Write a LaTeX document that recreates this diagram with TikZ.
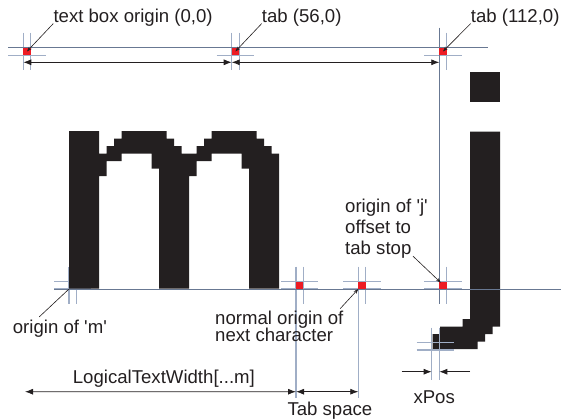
\documentclass[tikz,border=0pt]{standalone}
\usepackage{fontspec}
\newfontfamily\labelfont{Liberation Sans}
\usetikzlibrary{arrows.meta,calc}
\definecolor{inkblack}{RGB}{35,31,32}
\definecolor{pixred}{RGB}{237,28,36}
\definecolor{guidedark}{RGB}{104,120,146}
\definecolor{guidepale}{RGB}{160,174,198}
\tikzset{
  guide/.style={draw=guidedark, line width=1pt},
  faint/.style={draw=guidepale, line width=1.1pt},
  glyph/.style={fill=inkblack},
  dimarrow/.style={{Latex[length=8pt,width=6pt]}-{Latex[length=8pt,width=6pt]}, line width=0.8pt, draw=inkblack},
  onearrow/.style={-{Latex[length=8pt,width=6pt]}, line width=0.8pt, draw=inkblack},
  leader/.style={-{Stealth[length=5pt,width=3.5pt]}, line width=0.6pt, draw=inkblack},
  txt/.style={font=\labelfont\fontsize{18.6}{21}\selectfont, text=inkblack, inner sep=0pt, align=left},
}
\begin{document}
\begin{tikzpicture}[x=1pt, y=-1pt]
\useasboundingbox (0,0) rectangle (561,418);
% the j glyph
\begin{scope}[shift={(470,289)}, x=7.5pt, y=-7.5pt]
  \fill[glyph] (0,-29) rectangle (4,-25);
  \fill[glyph] (0,-21) -- (4,-21) -- (4,5) -- (3,5) -- (3,6) -- (2,6) -- (2,7) -- (1,7) -- (1,8)
    -- (-5,8) -- (-5,6) -- (-4,6) -- (-4,5) -- (-1,5) -- (-1,4) -- (0,4) -- cycle;
\end{scope}
% crosshair markers
\foreach \n/\x/\y in {orig/23.3/47.7, tabA/231.7/47.7, tabB/439.3/47.7, morig/69/281.6,
    nextch/296/281.6, tabstop/358.3/281.6, jorig/439.3/281.6, jbox/431.7/342.6} {
  \coordinate (\n) at (\x,\y);
  \draw[faint] (\x,\y-15) -- (\x,\y+22.4) (\x+7.4,\y-15) -- (\x+7.4,\y+22.4)
    (\x-15,\y) -- (\x+22.4,\y) (\x-15,\y+7.4) -- (\x+22.4,\y+7.4);
}
\draw[guide] (8,47.7) -- (488,47.7);
\draw[guide] (54,289) -- (561,289);
\draw[guide] ($(tabB)+(0,-20)$) -- ($(jorig)+(0,22.4)$);
\foreach \n in {nextch,tabstop}
  \draw[faint] ($(\n)+(0,22.4)$) -- ($(\n)+(0,116.7)$);
\draw[faint] ($(jbox)+(0,22.4)$) -- ($(jbox)+(0,37.4)$);
\draw[faint] ($(jbox)+(7.4,22.4)$) -- ($(jbox)+(7.4,37.4)$);
% the m glyph
\begin{scope}[shift={(69,131)}, x=7.5pt, y=-7.5pt]
  \fill[glyph] (0,21) -- (0,0) -- (4,0) -- (4,3) -- (5,3) -- (5,2) -- (6,2) -- (6,1) -- (7,1) -- (7,0)
    -- (13,0) -- (13,1) -- (14,1) -- (14,2) -- (15,2) -- (15,3) -- (17,3) -- (17,2) -- (18,2) -- (18,1)
    -- (19,1) -- (19,0) -- (25,0) -- (25,1) -- (26,1) -- (26,2) -- (27,2) -- (27,3) -- (28,3) -- (28,21)
    -- (24,21) -- (24,5) -- (23,5) -- (23,3) -- (19,3) -- (19,4) -- (17,4) -- (17,6) -- (16,6) -- (16,21)
    -- (12,21) -- (12,5) -- (11,5) -- (11,3) -- (7,3) -- (7,4) -- (5,4) -- (5,6) -- (4,6) -- (4,21) -- cycle;
\end{scope}
\foreach \n in {orig,tabA,tabB,nextch,tabstop,jorig}
  \fill[pixred] (\n) rectangle ++(7.4,7.4);
% dimensions
\coordinate (ltw) at (25,391.7);
\draw[dimarrow] ($(orig)+(0,14.6)$) -- ($(tabA)+(0,14.6)$);
\draw[dimarrow] ($(tabA)+(0,14.6)$) -- ($(tabB)+(0,14.6)$);
\draw[dimarrow] (ltw) -- ($(nextch)+(0,110.1)$);
\draw[dimarrow] ($(nextch)+(0,110.1)$) -- ($(tabstop)+(0,110.1)$);
\draw[onearrow] ($(jbox)+(-30,29.1)$) -- ($(jbox)+(0,29.1)$);
\draw[onearrow] ($(jbox)+(38.3,29.1)$) -- ($(jbox)+(7.6,29.1)$);
% labels
\node[txt, anchor=base west] (lorig) at (53.3,22.5) {text box origin (0,0)};
\node[txt, anchor=base west] (ltabA) at (261.7,22.5) {tab (56,0)};
\node[txt, anchor=base west] (ltabB) at (470.7,22.5) {tab (112,0)};
\node[txt, anchor=base west] (lmorig) at (12.7,333.5) {origin of 'm'};
\node[txt, anchor=south west] (lnext) at (215,341.7) {normal origin of\\[-4pt]next character};
\node[txt, anchor=south west] (ljorig) at (345,258.2) {origin of 'j'\\offset to\\tab stop};
\node[txt, anchor=base west] (lltw) at (72.7,383.5) {LogicalTextWidth[...m]};
\node[txt, anchor=base west] (ltab) at (287.3,415) {Tab space};
\node[txt, anchor=base west] (lxpos) at (413.3,403.3) {xPos};
\draw[leader] ([yshift=3pt]lorig.south west) -- ($(orig)+(3.7,3.7)$);
\draw[leader] ([yshift=3pt]ltabA.south west) -- ($(tabA)+(3.7,3.7)$);
\draw[leader] ([yshift=3pt]ltabB.south west) -- ($(tabB)+(3.7,3.7)$);
\draw[line width=0.6pt, inkblack] ([xshift=26.6pt,yshift=3pt]lmorig.north west) -- ($(morig)+(0,7.4)$);
\draw[leader] ([xshift=-3.4pt,yshift=2pt]lnext.north east) -- ($(tabstop)+(0,7.4)$);
\draw[leader] ([xshift=68pt,yshift=2pt]ljorig.south west) -- ($(jorig)+(1.5,1)$);
\end{tikzpicture}
\end{document}
